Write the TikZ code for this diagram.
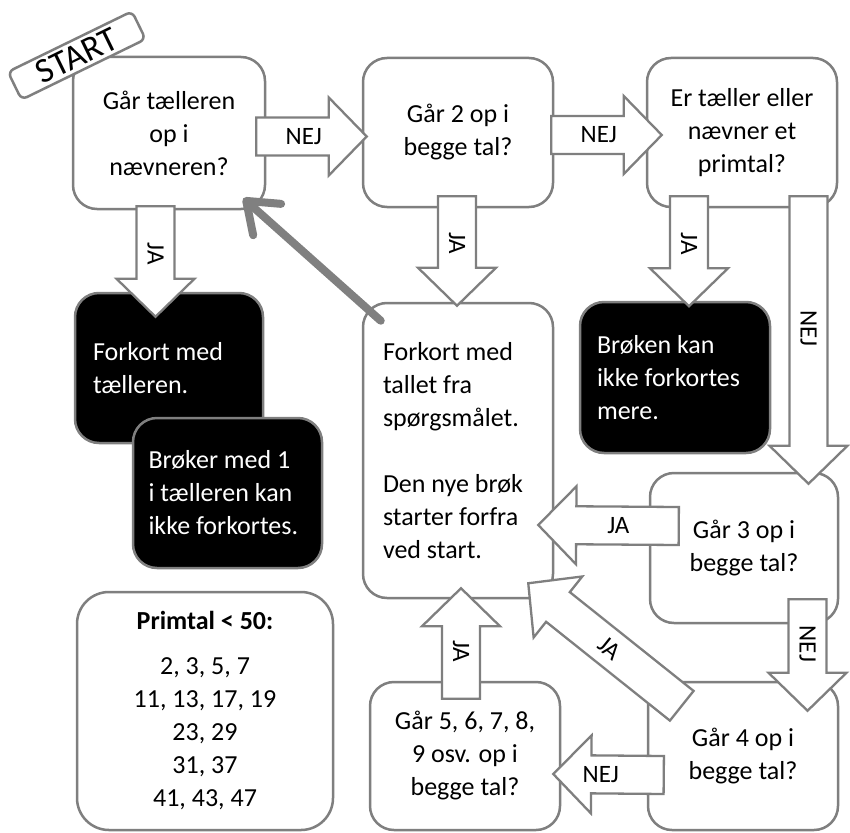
\documentclass[tikz,border=0pt]{standalone}
\usepackage{fontspec}
\setmainfont{Carlito}
\usetikzlibrary{calc,arrows.meta}

\definecolor{rimgray}{RGB}{127,127,127}
\definecolor{linkgray}{RGB}{128,128,128}

\tikzset{
  qbox/.style={draw=rimgray, line width=2.5pt, rounded corners=24pt, fill=white, align=flush center, inner sep=0pt, font=\fontsize{26}{33}\selectfont},
  endbox/.style={qbox, fill=black, text=white, align=flush left},
  startbox/.style={draw=rimgray, line width=2.5pt, rounded corners=6pt, fill=white, inner sep=0pt, font=\fontsize{35}{35}\selectfont},
  blockarrow/.style={draw=rimgray, line width=2.3pt, fill=white, line join=miter},
  arrowlabel/.style={font=\fontsize{25}{25}\selectfont, inner sep=0pt},
  backline/.style={draw=linkgray, line width=8pt, line cap=round, -{Straight Barb[length=28pt,width=42pt,round]}},
}

% block arrow: [label pos] {start} {tip} {label} {label angle}
\newcommand{\flowarrow}[5][0.43]{%
  \coordinate (ba-s) at (#2);
  \coordinate (ba-t) at (#3);
  \coordinate (ba-b) at ($(ba-t)!38pt!(ba-s)$);
  \draw[blockarrow] ($(ba-s)!19pt!90:(ba-t)$) -- ($(ba-b)!19pt!-90:(ba-s)$) -- ($(ba-b)!39pt!-90:(ba-s)$) -- (ba-t)
    -- ($(ba-b)!39pt!90:(ba-s)$) -- ($(ba-b)!19pt!90:(ba-s)$) -- ($(ba-s)!19pt!-90:(ba-t)$) -- cycle;
  \node[arrowlabel, rotate=#5] at ($(ba-s)!#1!(ba-t)$) {#4};
}

\begin{document}
\begin{tikzpicture}[x=1pt,y=-1pt]
\useasboundingbox (0,0) rectangle (850,832);

% question boxes
\node[qbox, minimum width=192pt, minimum height=152pt] (q1) at (169,133) {Går tælleren\\op i\\nævneren?};
\node[qbox, minimum width=190pt, minimum height=149pt] (q2) at (458,132.5) {Går 2 op i\\begge tal?};
\node[qbox, minimum width=190pt, minimum height=149pt] (q3) at (742,132.5) {Er tæller eller\\nævner et\\primtal?};

% end boxes
\node[endbox, minimum width=188pt, minimum height=150pt, text width=152pt] (tal1) at (169,368) {Forkort med\\tælleren.};
\node[endbox, minimum width=189pt, minimum height=150pt, text width=158pt] (tal2) at (227.5,493) {Brøker med 1\\i tælleren kan\\ikke forkortes.};
\node[endbox, minimum width=190pt, minimum height=151pt, text width=156pt] (stop) at (675,377.5) {Brøken kan\\ikke forkortes\\mere.};

\node[qbox, align=flush left, minimum width=190pt, minimum height=295pt, text width=150pt] (act) at (458,450.5) {Forkort med\\tallet fra\\spørgsmålet.\\[33pt]Den nye brøk\\starter forfra\\ved start.};

\node[qbox, minimum width=188pt, minimum height=150pt] (q4) at (744,548) {Går 3 op i\\begge tal?};
\node[qbox, minimum width=190pt, minimum height=148pt] (q5) at (743,756) {Går 4 op i\\begge tal?};
\node[qbox, minimum width=190pt, minimum height=148pt] (q6) at (465,756) {Går 5, 6, 7, 8,\\9 osv. op i\\begge tal?};

\node[qbox, rounded corners=32pt, minimum width=256pt, minimum height=238pt] (prim) at (205,711) {\textbf{Primtal < 50:}\\[12pt]2, 3, 5, 7\\11, 13, 17, 19\\23, 29\\31, 37\\41, 43, 47};

\node[startbox, rotate=26, minimum width=138pt, minimum height=31pt] (start) at (76.75,55.5) {START};

% block arrows
\flowarrow{$(q1.east)+(-10,3.5)$}{$(q2.west)+(5,4)$}{NEJ}{0}
\flowarrow{$(q2.east)+(-3,2.5)$}{$(q3.west)+(16,2.5)$}{NEJ}{0}
\flowarrow{$(q1.south)+(-13.5,-4)$}{$(tal1.north)+(-13.5,25)$}{JA}{-90}
\flowarrow{$(q2.south)+(-1,-12)$}{$(act.north)+(-1,4)$}{JA}{-90}
\flowarrow{$(q3.south)+(-53,-12)$}{$(stop.north)+(14,5.5)$}{JA}{-90}
\flowarrow[0.46]{$(q3.south)+(66.5,-12)$}{$(q4.north)+(64.5,12)$}{NEJ}{-90}
\flowarrow{$(q4.west)+(30,-22)$}{$(act.east)+(-16,74.5)$}{JA}{0}
\flowarrow[0.4]{$(q4.south)+(63.5,-25)$}{$(q5.north)+(64.5,30)$}{NEJ}{-90}
\flowarrow[0.47]{$(q5.north west)+(35,25)$}{$(act.south east)+(-26,-16)$}{JA}{-38.7}
\flowarrow[0.57]{$(q5.west)+(17,19)$}{$(q6.east)+(-8,18)$}{NEJ}{0}
\flowarrow{$(q6.north)+(-4,18)$}{$(act.south)+(3,-11)$}{JA}{-90}

% back to start
\draw[backline] ($(act.north west)+(19,19)$) -- ($(q1.south east)+(-23,-12)$);
\end{tikzpicture}
\end{document}
